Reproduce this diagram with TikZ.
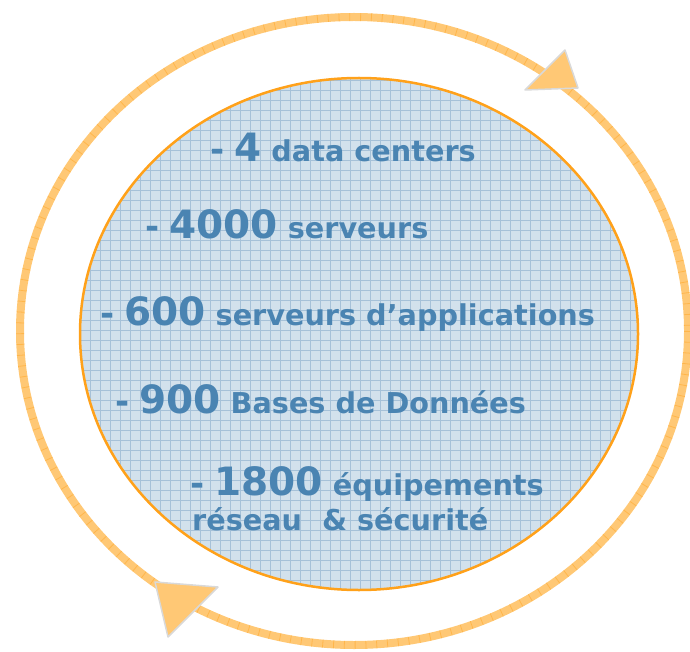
\documentclass[tikz,border=0pt]{standalone}
\usepackage{fontspec}
\setmainfont{DejaVu Sans}
\definecolor{txtblue}{HTML}{4A84B2}
\definecolor{ringor}{HTML}{FFC875}
\definecolor{lineor}{HTML}{FFA11A}
\definecolor{fillbl}{HTML}{D2E1EC}
\definecolor{gridbl}{HTML}{A6C1D8}
\tikzset{
  item/.style={anchor=base west, inner sep=0pt, text=txtblue, font=\bfseries\fontsize{28.7}{31}\selectfont},
  tip/.style={fill=ringor, draw=black!15, line width=1.5pt, line join=round}
}
\newcommand{\bignum}[1]{{\fontsize{39}{42}\selectfont #1}}
\newcommand{\dsh}{{\fontsize{34}{36}\selectfont -}}
\begin{document}
\begin{tikzpicture}[x=1pt,y=-1pt]
\useasboundingbox (0,0) rectangle (690,652);
% outer ring
\draw[ringor, line width=8pt] (354,331) ellipse[x radius=334, y radius=314];
\draw[lineor, opacity=.45, line width=8pt, dash pattern=on .8pt off 10pt] (354,331) ellipse[x radius=334, y radius=314];
% inner disc
\fill[fillbl] (359,334) ellipse[x radius=279, y radius=256];
\begin{scope}
\clip (359,334) ellipse[x radius=279, y radius=256];
\foreach \i in {0,...,60} {
  \draw[gridbl, line width=.7pt] (70+10*\i,70) -- (70+10*\i,600);
}
\foreach \j in {0,...,55} {
  \draw[gridbl, line width=.7pt] (70,70+10*\j) -- (650,70+10*\j);
}
\end{scope}
\draw[lineor, line width=2.5pt] (359,334) ellipse[x radius=279, y radius=256];
% arrow heads
\filldraw[tip] (565,50) -- (578,88) -- (525,90) -- cycle;
\filldraw[tip] (155,582) -- (218,587) -- (168,637) -- cycle;
% texts
\node[item] (dc) at (210,162) {\dsh{} \bignum{4} data centers};
\node[item] (srv) at (145,239) {\dsh{} \bignum{4000} serveurs};
\node[item] (app) at (100,325) {\dsh{} \bignum{600} serveurs d’applications};
\node[item] (bdd) at (115,413) {\dsh{} \bignum{900} Bases de Données};
\node[item] (equ) at (190,495) {\dsh{} \bignum{1800} équipements};
\node[item] (res) at (192,530) {réseau~ \& sécurité};
\end{tikzpicture}
\end{document}
